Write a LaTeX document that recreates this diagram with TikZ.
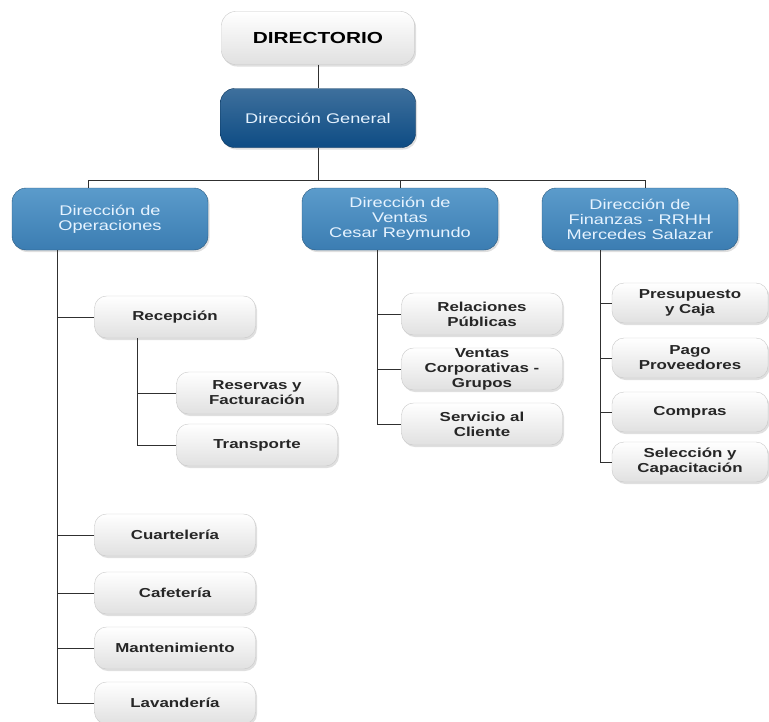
\documentclass[tikz,border=0pt]{standalone}
\usepackage{fontspec}
\setmainfont[FakeStretch=1.3]{Liberation Sans}
\usepackage{tikz}
\usetikzlibrary{positioning}
\usetikzlibrary{shadows}

\definecolor{headblue}{HTML}{0E4C84}
\definecolor{deptblue}{HTML}{3B7DB2}
\definecolor{deptlight}{HTML}{5B9BCB}
\definecolor{pale}{HTML}{E6F3FF}
\definecolor{boxline}{HTML}{C8C8C8}
\definecolor{linkgray}{HTML}{303030}

\tikzset{
  softshadow/.style = {drop shadow = {opacity = 0.25, shadow xshift = 1.5pt, shadow yshift = -2pt}},
  unitbox/.style = {draw = boxline, rectangle, rounded corners = 12pt, softshadow,
    top color = white, bottom color = black!12, align = center, inner sep = 0pt,
    minimum width = 161pt, minimum height = 42pt, text = black!85,
    font = \fontsize{13}{15}\selectfont\bfseries},
  deptbox/.style = {draw = deptblue!70!black, rectangle, rounded corners = 14pt, softshadow,
    top color = deptlight, bottom color = deptblue, align = center, inner sep = 0pt,
    minimum width = 196pt, minimum height = 62pt, text = pale,
    font = \fontsize{14}{15}\selectfont},
  link/.style = {draw = linkgray, line width = 1pt}
}

\begin{document}
\begin{tikzpicture}[x = 1pt, y = -1pt]
\useasboundingbox (0,0) rectangle (769,721);

% cabecera
\node[unitbox, minimum width = 193pt, minimum height = 53pt, rounded corners = 14pt,
  font = \fontsize{16}{18}\selectfont\bfseries, text = black] (dir) at (318,38) {DIRECTORIO};
\node[deptbox, top color = headblue!80!white, bottom color = headblue, draw = headblue!70!black,
  minimum width = 195pt, minimum height = 59pt] (gen) at (318,118) {Dirección General};

% direcciones
\node[deptbox] (ops) at (110,219) {Dirección de\\Operaciones};
\node[deptbox] (ven) at (400,219) {Dirección de\\Ventas\\Cesar Reymundo};
\node[deptbox] (fin) at (640,219) {Dirección de\\Finanzas - RRHH\\Mercedes Salazar};

% operaciones
\node[unitbox] (rec) at (175,317) {Recepción};
\node[unitbox] (res) at (257,393) {Reservas y\\Facturación};
\node[unitbox] (tra) at (257,445) {Transporte};
\node[unitbox] (cua) at (175,535) {Cuartelería};
\node[unitbox] (caf) at (175,593) {Cafetería};
\node[unitbox] (man) at (175,648) {Mantenimiento};
\node[unitbox] (lav) at (175,703) {Lavandería};

% ventas
\node[unitbox] (rel) at (482,314) {Relaciones\\Públicas};
\node[unitbox] (cor) at (482,369) {Ventas\\Corporativas -\\Grupos};
\node[unitbox] (ser) at (482,424) {Servicio al\\Cliente};

% finanzas
\node[unitbox, minimum width = 156pt, minimum height = 40pt] (pre) at (690,303) {Presupuesto\\y Caja};
\node[unitbox, minimum width = 156pt, minimum height = 40pt] (pag) at (690,358) {Pago\\Proveedores};
\node[unitbox, minimum width = 156pt, minimum height = 40pt] (com) at (690,412) {Compras};
\node[unitbox, minimum width = 156pt, minimum height = 40pt] (sel) at (690,462) {Selección y\\Capacitación};

% conectores
\coordinate (busL) at (88,180);
\coordinate (busR) at (645,180);
\coordinate (opsX) at (57,0);
\coordinate (recX) at (137,0);
\coordinate (venX) at (377,0);
\coordinate (finX) at (600,0);

\draw[link] (dir) -- (gen);
\draw[link] (gen.south) -- (gen.south |- busL);
\draw[link] (busL) -- (busR);
\draw[link] (busL) -- (busL |- ops.north);
\draw[link] (ven.north) -- (ven.north |- busL);
\draw[link] (busR) -- (busR |- fin.north);

\draw[link] (opsX |- ops.south) |- (lav.west);
\foreach \n in {rec, cua, caf, man}
  \draw[link] (opsX |- \n.west) -- (\n.west);
\draw[link] (recX |- rec.south) |- (tra.west);
\draw[link] (recX |- res.west) -- (res.west);

\draw[link] (venX |- ven.south) |- (ser.west);
\foreach \n in {rel, cor}
  \draw[link] (venX |- \n.west) -- (\n.west);

\draw[link] (finX |- fin.south) |- (sel.west);
\foreach \n in {pre, pag, com}
  \draw[link] (finX |- \n.west) -- (\n.west);
\end{tikzpicture}
\end{document}
